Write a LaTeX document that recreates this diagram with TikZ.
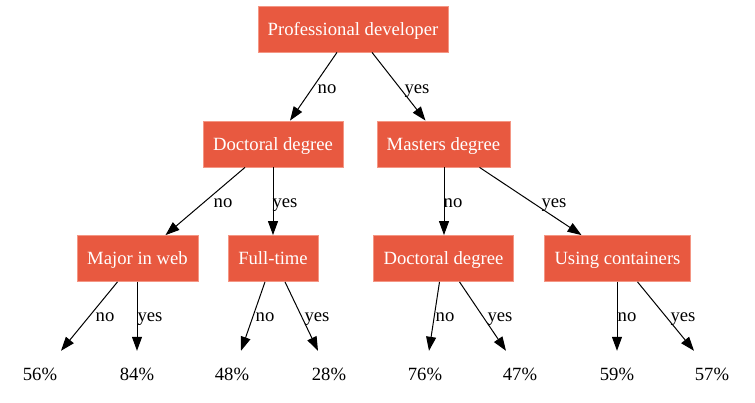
\documentclass[tikz,border=0pt]{standalone}
\usepackage{fontspec}
\setmainfont{Liberation Serif}
\usetikzlibrary{arrows.meta,calc}
\definecolor{boxfill}{RGB}{232,89,64}
\definecolor{boxline}{RGB}{244,150,132}
\tikzset{
  x=1pt,y=-1pt,
  txt/.style={font=\fontsize{18.67}{22}\selectfont,text height=12.5pt,text depth=0pt},
  box/.style={txt,draw=boxline,line width=0.8pt,fill=boxfill,text=white,minimum height=46pt,inner sep=0pt},
  leaf/.style={txt,minimum height=46pt,inner sep=0pt},
  lbl/.style={txt,inner sep=0pt},
  edge/.style={line width=1pt,-{Triangle[length=14pt,width=10pt]}},
}
\begin{document}
\begin{tikzpicture}
\useasboundingbox (0,0) rectangle (755,403);
% decision nodes
\node[box,minimum width=190pt] (root) at (353,29) {Professional developer};
\node[box,minimum width=140pt] (doc1) at (273,144) {Doctoral degree};
\node[box,minimum width=133pt] (mast) at (443.5,144) {Masters degree};
\node[box,minimum width=121pt] (major) at (137.5,258.5) {Major in web};
\node[box,minimum width=90pt] (full) at (273,258.5) {Full-time};
\node[box,minimum width=140pt] (doc2) at (443.5,258.5) {Doctoral degree};
\node[box,minimum width=146pt] (cont) at (617.5,258.5) {Using containers};
% leaves
\node[leaf] (l1) at (40,374) {56\%};
\node[leaf] (l2) at (137,374) {84\%};
\node[leaf] (l3) at (232,374) {48\%};
\node[leaf] (l4) at (329,374) {28\%};
\node[leaf] (l5) at (425,374) {76\%};
\node[leaf] (l6) at (520,374) {47\%};
\node[leaf] (l7) at (617,374) {59\%};
\node[leaf] (l8) at (712,374) {57\%};
% edges
\draw[edge] ([xshift=-16pt]root.south) -- ([xshift=17pt]doc1.north);
\draw[edge] ([xshift=19pt]root.south) -- ([xshift=-18pt]mast.north);
\draw[edge] ([xshift=-28pt]doc1.south) -- ([xshift=28pt]major.north);
\draw[edge] (doc1.south) -- (full.north);
\draw[edge] ([xshift=0.5pt]mast.south) -- ([xshift=0.5pt]doc2.north);
\draw[edge] ([xshift=36pt]mast.south) -- ([xshift=-36pt]cont.north);
\draw[edge] ([xshift=-20pt]major.south) -- ([xshift=21pt]l1.north);
\draw[edge] ([xshift=-0.5pt]major.south) -- (l2.north);
\draw[edge] ([xshift=-8pt]full.south) -- ([xshift=9pt]l3.north);
\draw[edge] ([xshift=12pt]full.south) -- ([xshift=-11pt]l4.north);
\draw[edge] ([xshift=-4pt]doc2.south) -- ([xshift=4pt]l5.north);
\draw[edge] ([xshift=16pt]doc2.south) -- ([xshift=-14pt]l6.north);
\draw[edge] ([xshift=-0.5pt]cont.south) -- (l7.north);
\draw[edge] ([xshift=20pt]cont.south) -- ([xshift=-18pt]l8.north);
% edge labels
\node[lbl] (e1) at (327,87.75) {no};
\node[lbl] (e2) at (417,87.75) {yes};
\node[lbl] (e3) at (223,201.75) {no};
\node[lbl] (e4) at (285,201.75) {yes};
\node[lbl] (e5) at (453,201.75) {no};
\node[lbl] (e6) at (554,201.75) {yes};
\node[lbl] (e7) at (105,315.75) {no};
\node[lbl] (e8) at (150,315.75) {yes};
\node[lbl] (e9) at (265,315.75) {no};
\node[lbl] (e10) at (317,315.75) {yes};
\node[lbl] (e11) at (445,315.75) {no};
\node[lbl] (e12) at (500,315.75) {yes};
\node[lbl] (e13) at (627,315.75) {no};
\node[lbl] (e14) at (683,315.75) {yes};
\end{tikzpicture}
\end{document}
